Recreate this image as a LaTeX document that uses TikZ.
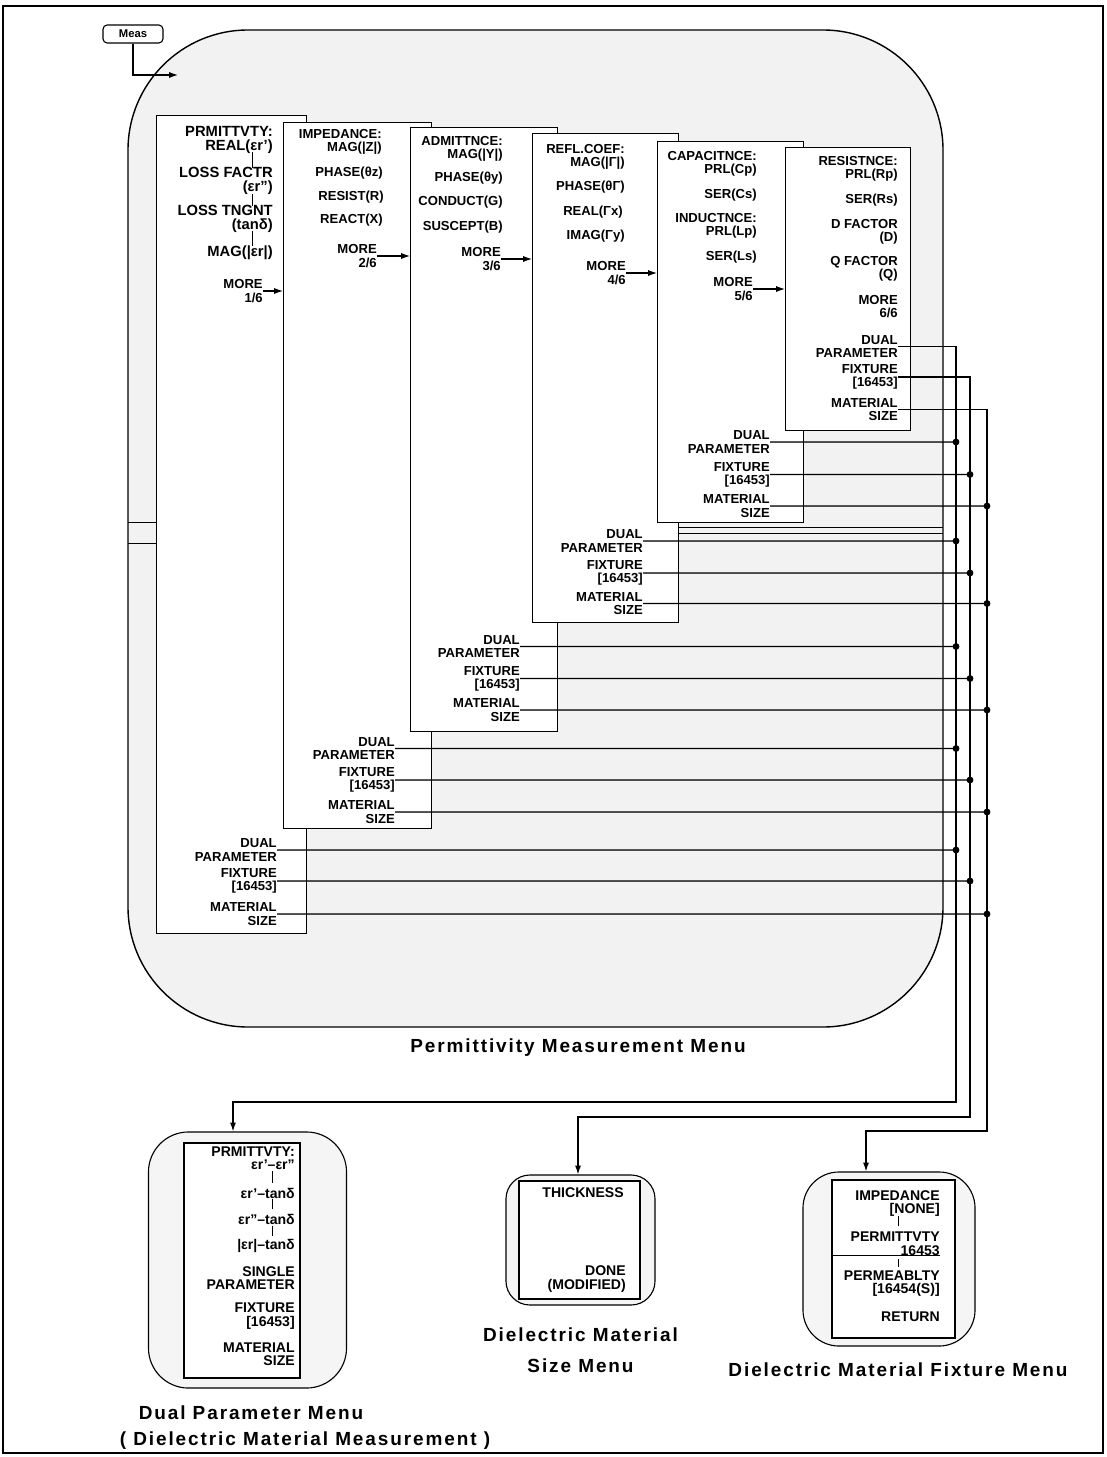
\documentclass[tikz,border=0pt]{standalone}
\usepackage{fontspec}
\setmainfont{Liberation Sans}
\newfontfamily\titlefont[LetterSpace=10]{Liberation Sans}
\usetikzlibrary{arrows.meta, positioning}

\begin{document}
\begin{tikzpicture}[
    x=0.025cm, y=-0.025cm,
    area/.style={draw, fill=gray!10, line width=1pt, rounded corners=3cm},
    key/.style={draw, rounded corners=3pt, line width=0.8pt, minimum width=1.5cm, minimum height=0.45cm, inner sep=0pt, font=\fontsize{8}{9}\selectfont\bfseries},
    menubox/.style={draw, fill=white, line width=0.8pt, inner sep=0pt, anchor=north west},
    lbl/.style={font=\fontsize{9.3}{9.4}\selectfont\bfseries, align=right, inner sep=0pt, anchor=east},
    biglbl/.style={lbl, font=\fontsize{10.5}{10}\selectfont\bfseries},
    poplbl/.style={lbl, font=\fontsize{10}{9.6}\selectfont\bfseries},
    popup/.style={draw, fill=gray!8, line width=0.8pt, inner sep=0pt},
    keys/.style={draw, fill=white, line width=0.8pt, inner sep=0pt},
    menutitle/.style={font=\titlefont\fontsize{13.5}{22}\selectfont\bfseries, align=center, inner sep=0pt},
    link/.style={line width=0.8pt},
    arrow/.style={line width=0.8pt, -{Latex[length=2.2mm, width=1.5mm]}},
    tick/.style={line width=0.4pt}
]
    \useasboundingbox (0,0) rectangle (1106,1457);
    \draw[line width=1.2pt] (3,6) rectangle (1103,1453);

    % permittivity measurement menu
    \draw[area] (128,30) rectangle (943,1027);
    \draw[tick] (128,522) -- (156,522) (128,543) -- (156,543);
    \draw[tick] (678,527) -- (943,527) (678,533) -- (943,533);
    \node[menutitle] (maintitle) at (578,1048) {Permittivity Measurement Menu};

    \node[key] (meas) at (133,34) {Meas};
    \coordinate (entry) at (178,75);
    \draw[arrow] (meas.south) |- (entry);

    \node[menubox, minimum width=3.75cm, minimum height=20.45cm] (m1) at (156,115) {};
    \node[menubox, minimum width=3.7cm, minimum height=17.65cm] (m2) at (283,122) {};
    \node[menubox, minimum width=3.675cm, minimum height=15.1cm] (m3) at (410,127) {};
    \node[menubox, minimum width=3.65cm, minimum height=12.225cm] (m4) at (532,133) {};
    \node[menubox, minimum width=3.65cm, minimum height=9.525cm] (m5) at (657,141) {};
    \node[menubox, minimum width=3.125cm, minimum height=7.075cm] (m6) at (785,147) {};

    % 1/6
    \node[biglbl] (prm) at (273,140) {PRMITTVTY:\\REAL(εr')};
    \node[biglbl] (lossf) at (273,181) {LOSS FACTR\\(εr'')};
    \node[biglbl] (losst) at (273,219) {LOSS TNGNT\\(tanδ)};
    \node[biglbl] (magr) at (273,253) {MAG(|εr|)};
    \node[lbl] (more1) at (263,291) {MORE\\1/6};
    \node[lbl] (d1) at (277,850) {DUAL\\PARAMETER};
    \node[lbl] (f1) at (277,881) {FIXTURE\\{[16453]}};
    \node[lbl] (s1) at (277,914) {MATERIAL\\SIZE};
    \draw[tick] (252,152) -- (252,168) (252,194) -- (252,206) (252,231) -- (252,246);

    % 2/6
    \node[lbl] (imp) at (382,141.5) {IMPEDANCE:\\MAG(|Z|)};
    \node[lbl] (phz) at (383,173) {PHASE(θz)};
    \node[lbl] (res) at (384,197) {RESIST(R)};
    \node[lbl] (rea) at (383,220) {REACT(X)};
    \node[lbl] (more2) at (377,256) {MORE\\2/6};
    \node[lbl] (d2) at (395,748.5) {DUAL\\PARAMETER};
    \node[lbl] (f2) at (395,780) {FIXTURE\\{[16453]}};
    \node[lbl] (s2) at (395,812) {MATERIAL\\SIZE};

    % 3/6
    \node[lbl] (adm) at (503,148.5) {ADMITTNCE:\\MAG(|Y|)};
    \node[lbl] (phy) at (503,178) {PHASE(θy)};
    \node[lbl] (con) at (503,202) {CONDUCT(G)};
    \node[lbl] (sus) at (503,227) {SUSCEPT(B)};
    \node[lbl] (more3) at (501,259) {MORE\\3/6};
    \node[lbl] (d3) at (520,646.5) {DUAL\\PARAMETER};
    \node[lbl] (f3) at (520,678.5) {FIXTURE\\{[16453]}};
    \node[lbl] (s3) at (520,710) {MATERIAL\\SIZE};

    % 4/6
    \node[lbl] (refl) at (625,156.5) {REFL.COEF:\\MAG(|Γ|)};
    \node[lbl] (phg) at (625,187) {PHASE(θΓ)};
    \node[lbl] (reg) at (623,212) {REAL(Γx)};
    \node[lbl] (img) at (625,236) {IMAG(Γy)};
    \node[lbl] (more4) at (626,273) {MORE\\4/6};
    \node[lbl] (d4) at (643,541) {DUAL\\PARAMETER};
    \node[lbl] (f4) at (643,573) {FIXTURE\\{[16453]}};
    \node[lbl] (s4) at (643,603.5) {MATERIAL\\SIZE};

    % 5/6
    \node[lbl] (cap) at (757,164) {CAPACITNCE:\\PRL(Cp)};
    \node[lbl] (sercs) at (757,195) {SER(Cs)};
    \node[lbl] (ind) at (757,226) {INDUCTNCE:\\PRL(Lp)};
    \node[lbl] (serls) at (757,257) {SER(Ls)};
    \node[lbl] (more5) at (753,289) {MORE\\5/6};
    \node[lbl] (d5) at (770,442) {DUAL\\PARAMETER};
    \node[lbl] (f5) at (770,474.5) {FIXTURE\\{[16453]}};
    \node[lbl] (s5) at (770,506) {MATERIAL\\SIZE};

    % 6/6
    \node[lbl] (rst) at (898,169) {RESISTNCE:\\PRL(Rp)};
    \node[lbl] (serrs) at (898,200) {SER(Rs)};
    \node[lbl] (dfac) at (898,231.5) {D FACTOR\\(D)};
    \node[lbl] (qfac) at (898,268.5) {Q FACTOR\\(Q)};
    \node[lbl] (more6) at (898,306.5) {MORE\\6/6};
    \node[lbl] (d6) at (898,346.5) {DUAL\\PARAMETER};
    \node[lbl] (f6) at (898,377) {FIXTURE\\{[16453]}};
    \node[lbl] (s6) at (898,409.5) {MATERIAL\\SIZE};

    \draw[arrow] (more1.east) -- (more1.east -| m2.west);
    \draw[arrow] (more2.east) -- (more2.east -| m3.west);
    \draw[arrow] (more3.east) -- (more3.east -| m4.west);
    \draw[arrow] (more4.east) -- (more4.east -| m5.west);
    \draw[arrow] (more5.east) -- (more5.east -| m6.west);

    % dual parameter menu
    \node[popup, rounded corners=1cm, minimum width=4.95cm, minimum height=6.4cm] (dualmenu) at (247.5,1260) {};
    \node[keys, minimum width=2.9cm, minimum height=5.875cm] (dualkeys) at (242,1260.5) {};
    \node[poplbl] (dp1) at (295,1158) {PRMITTVTY:\\εr'--εr''};
    \node[poplbl] (dp2) at (295,1193) {εr'--tanδ};
    \node[poplbl] (dp3) at (295,1219) {εr''--tanδ};
    \node[poplbl] (dp4) at (295,1245.5) {|εr|--tanδ};
    \node[poplbl] (dp5) at (295,1278) {SINGLE\\PARAMETER};
    \node[poplbl] (dp6) at (295,1316) {FIXTURE\\{[16453]}};
    \node[poplbl] (dp7) at (295,1354) {MATERIAL\\SIZE};
    \draw[tick] (272,1171) -- (272,1183) (272,1199) -- (272,1209) (272,1226) -- (272,1236);
    \node[menutitle] (dualtitle) at (251,1413) {Dual Parameter Menu};
    \node[menutitle] (dualsub) at (305,1441) {( Dielectric Material Measurement )};

    % material size menu
    \node[popup, rounded corners=0.6cm, minimum width=3.725cm, minimum height=3.25cm] (sizemenu) at (580.5,1240) {};
    \node[keys, minimum width=3.025cm, minimum height=2.95cm] (sizekeys) at (579.5,1240) {};
    \node[poplbl] (thk) at (624,1193) {THICKNESS};
    \node[poplbl] (done) at (626,1279) {DONE\\(MODIFIED)};
    \node[menutitle, below=0.55cm of sizemenu] (sizetitle) {Dielectric Material\\Size Menu};

    % fixture menu
    \node[popup, rounded corners=0.9cm, minimum width=4.3cm, minimum height=4.35cm] (fixmenu) at (889,1259) {};
    \node[keys, minimum width=3.075cm, minimum height=3.95cm] (fixkeys) at (893.5,1259) {};
    \node[poplbl] (fx1) at (940,1203.5) {IMPEDANCE\\{[NONE]}};
    \node[poplbl] (fx2) at (940,1243.5) {PERMITTVTY\\16453};
    \node[poplbl] (fx3) at (940,1283.5) {PERMEABLTY\\{[16454(S)]}};
    \node[poplbl] (fx4) at (940,1317) {RETURN};
    \draw[link] (fx2.south east) -- (fx2.south east -| fixkeys.west);
    \draw[tick] (898,1216) -- (898,1226) (898,1259) -- (898,1267);
    \node[menutitle, below=0.4cm of fixmenu, xshift=0.225cm] (fixtitle) {Dielectric Material Fixture Menu};

    % bus lines to the popup menus
    \coordinate (turnD) at (956,1102);
    \coordinate (turnF) at (970,1117);
    \coordinate (turnM) at (987,1131);
    \coordinate (dropD) at (233,1102);
    \coordinate (dropF) at (578,1117);
    \coordinate (dropM) at (866,1131);
    \draw[arrow] (d6.east) -| (turnD) -- (dropD) -- (dropD |- dualmenu.north);
    \draw[arrow] (f6.east) -| (turnF) -- (dropF) -- (dropF |- sizemenu.north);
    \draw[arrow] (s6.east) -| (turnM) -- (dropM) -- (dropM |- fixmenu.north);

    \filldraw[link] (d5.east) -- (d5.east -| turnD) circle[radius=2pt];
    \filldraw[link] (f5.east) -- (f5.east -| turnF) circle[radius=2pt];
    \filldraw[link] (s5.east) -- (s5.east -| turnM) circle[radius=2pt];
    \filldraw[link] (d4.east) -- (d4.east -| turnD) circle[radius=2pt];
    \filldraw[link] (f4.east) -- (f4.east -| turnF) circle[radius=2pt];
    \filldraw[link] (s4.east) -- (s4.east -| turnM) circle[radius=2pt];
    \filldraw[link] (d3.east) -- (d3.east -| turnD) circle[radius=2pt];
    \filldraw[link] (f3.east) -- (f3.east -| turnF) circle[radius=2pt];
    \filldraw[link] (s3.east) -- (s3.east -| turnM) circle[radius=2pt];
    \filldraw[link] (d2.east) -- (d2.east -| turnD) circle[radius=2pt];
    \filldraw[link] (f2.east) -- (f2.east -| turnF) circle[radius=2pt];
    \filldraw[link] (s2.east) -- (s2.east -| turnM) circle[radius=2pt];
    \filldraw[link] (d1.east) -- (d1.east -| turnD) circle[radius=2pt];
    \filldraw[link] (f1.east) -- (f1.east -| turnF) circle[radius=2pt];
    \filldraw[link] (s1.east) -- (s1.east -| turnM) circle[radius=2pt];
\end{tikzpicture}
\end{document}
